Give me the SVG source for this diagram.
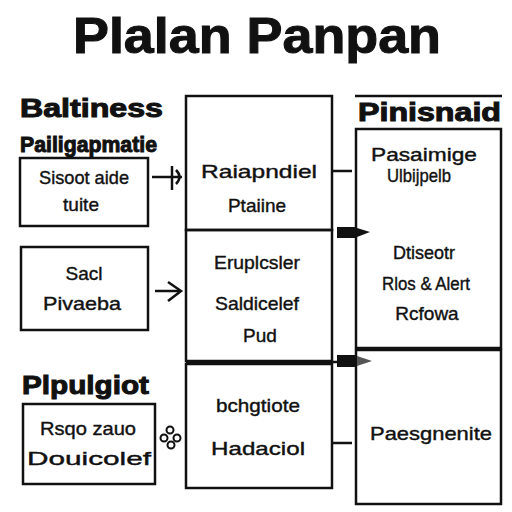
<svg xmlns="http://www.w3.org/2000/svg" width="512" height="512" viewBox="0 0 512 512">
<style>
.box{fill:none;stroke:#111;stroke-width:2.5}
.t{font-family:"Liberation Sans",Arial,sans-serif;font-size:19px;fill:#111;text-anchor:middle;stroke:#111;stroke-width:0.4}
.h{font-family:"Liberation Sans",Arial,sans-serif;font-weight:bold;fill:#111;stroke:#111;stroke-width:1}
.ln{stroke:#111;stroke-width:2.5;fill:none}
</style>
<rect width="512" height="512" fill="#fff"/>
<text x="257" y="53" class="h" text-anchor="middle" font-size="50" stroke-width="2" textLength="368" lengthAdjust="spacingAndGlyphs">Plalan Panpan</text>

<g id="left1">
<text x="20" y="117" class="h" font-size="25" textLength="143" lengthAdjust="spacingAndGlyphs">Baltiness</text>
<text x="20" y="152" class="h" font-size="22" textLength="137" lengthAdjust="spacingAndGlyphs">Pailigapmatie</text>
<rect x="20" y="158" width="128" height="68" class="box"/>
<text x="84" y="184" class="t" textLength="90" lengthAdjust="spacingAndGlyphs">Sisoot aide</text>
<text x="81" y="211" class="t">tuite</text>
</g>
<g id="left2">
<rect x="21" y="247" width="127" height="83" class="box"/>
<text x="84" y="280" class="t">Sacl</text>
<text x="82" y="310" class="t" textLength="78" lengthAdjust="spacingAndGlyphs">Pivaeba</text>
</g>
<g id="left3">
<text x="22" y="394" class="h" font-size="25" textLength="127" lengthAdjust="spacingAndGlyphs">Plpulgiot</text>
<rect x="23" y="404" width="132" height="80" class="box"/>
<text x="88" y="435" class="t" textLength="96" lengthAdjust="spacingAndGlyphs">Rsqo zauo</text>
<text x="89" y="465" class="t" textLength="124" lengthAdjust="spacingAndGlyphs">Douicolef</text>
</g>

<g id="mid1">
<rect x="186" y="96" width="146" height="134" class="box"/>
<text x="259" y="178" class="t" font-size="20" textLength="116" lengthAdjust="spacingAndGlyphs">Raiapndiel</text>
<text x="257" y="212" class="t" font-size="20">Ptaiine</text>
</g>
<g id="mid2">
<rect x="186" y="230" width="146" height="131" class="box"/>
<text x="257" y="269" class="t" font-size="20" textLength="86" lengthAdjust="spacingAndGlyphs">Eruplcsler</text>
<text x="257" y="310" class="t" font-size="20" textLength="84" lengthAdjust="spacingAndGlyphs">Saldicelef</text>
<text x="260" y="342" class="t" font-size="20">Pud</text>
</g>
<g id="mid3">
<rect x="186" y="364" width="146" height="124" class="box"/>
<text x="258" y="412" class="t" font-size="20" textLength="84" lengthAdjust="spacingAndGlyphs">bchgtiote</text>
<text x="258" y="455" class="t" font-size="20" textLength="94" lengthAdjust="spacingAndGlyphs">Hadaciol</text>
</g>

<g id="right1">
<line x1="355" y1="96" x2="502" y2="96" class="ln"/>
<text x="358" y="121" class="h" font-size="25" textLength="143" lengthAdjust="spacingAndGlyphs">Pinisnaid</text>
<rect x="356" y="129" width="145" height="219" class="box"/>
<text x="424" y="161" class="t" textLength="106" lengthAdjust="spacingAndGlyphs">Pasaimige</text>
<text x="419" y="182" class="t" textLength="64" lengthAdjust="spacingAndGlyphs">Ulbijpelb</text>
<text x="424" y="259" class="t" textLength="62" lengthAdjust="spacingAndGlyphs">Dtiseotr</text>
<text x="426" y="290" class="t" textLength="88" lengthAdjust="spacingAndGlyphs">Rlos &amp; Alert</text>
<text x="427" y="320" class="t">Rcfowa</text>
</g>
<g id="right2">
<rect x="356" y="350" width="145" height="154" class="box"/>
<text x="431" y="440" class="t" textLength="122" lengthAdjust="spacingAndGlyphs">Paesgnenite</text>
</g>

<g id="connectors">
<line x1="152" y1="177" x2="182" y2="177" class="ln" stroke-width="3"/>
<line x1="172" y1="166" x2="172" y2="190" class="ln" stroke-width="3"/>
<path d="M176 170 Q183 177 176 184" class="ln" stroke-width="2"/>
<line x1="155" y1="291" x2="180" y2="291" class="ln" stroke-width="3"/>
<path d="M168 282 L181 291 L168 301" class="ln" stroke-width="3"/>
<g fill="none" stroke="#111" stroke-width="2">
<circle cx="170" cy="430" r="3.5"/>
<circle cx="164" cy="438" r="3.5"/>
<circle cx="177" cy="438" r="3.5"/>
<circle cx="171" cy="445" r="3.5"/>
</g>
<line x1="332" y1="171" x2="352" y2="171" class="ln"/>
<line x1="332" y1="443" x2="352" y2="443" class="ln"/>
<rect x="337" y="227" width="20" height="11" fill="#111"/>
<path d="M357 228 L370 232 L357 237 Z" fill="#111"/>
<line x1="186" y1="362" x2="340" y2="362" class="ln"/>
<rect x="337" y="355" width="20" height="12" fill="#111"/>
<path d="M357 356 L372 361 L357 366 Z" fill="#555"/>
</g>
</svg>
